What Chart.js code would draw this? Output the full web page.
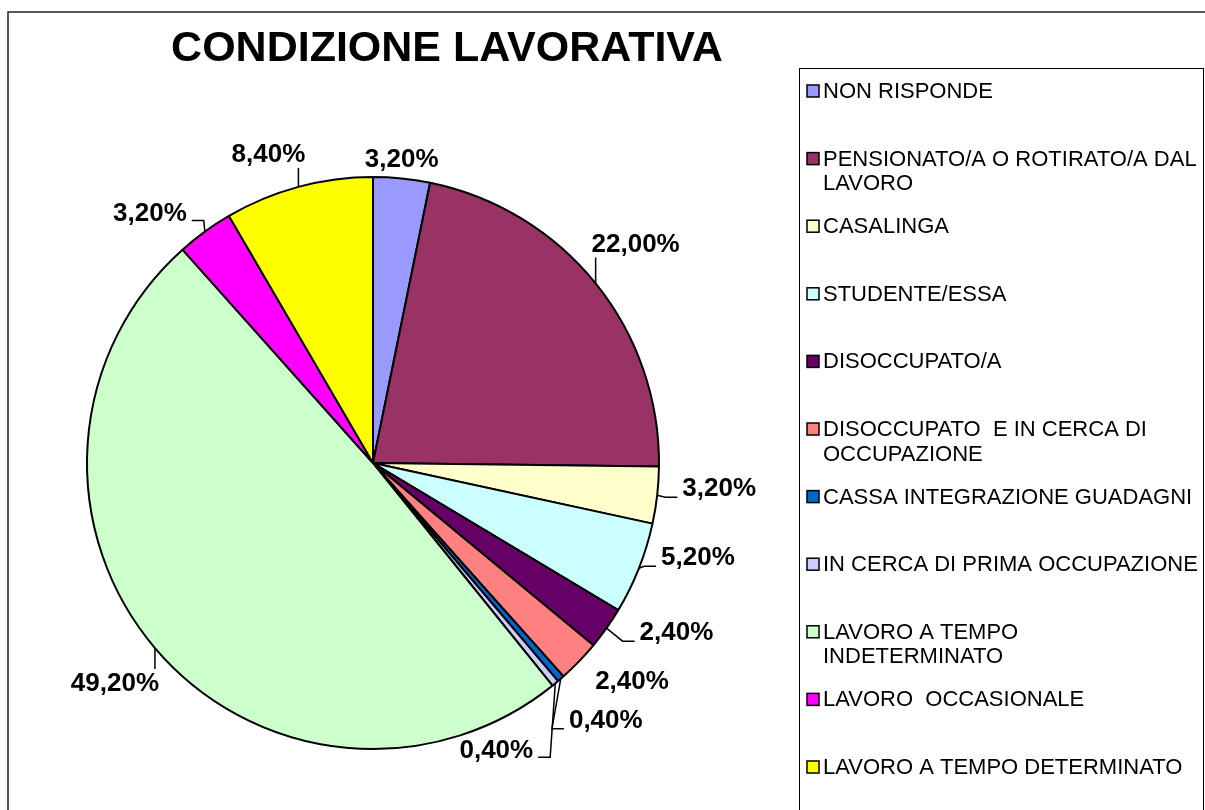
<html>

<head>
    <script src="https://cdn.jsdelivr.net/npm/chart.js"></script>
    <style>
        body { margin: 0; background: #fff; }
        canvas { display: block; }
    </style>
</head>

<body>
    <canvas id="myChart" width="1205" height="810"></canvas>
</body>
<script>

    var title = "CONDIZIONE LAVORATIVA";
    var labels = [
        "NON RISPONDE",
        ["PENSIONATO/A O ROTIRATO/A DAL", "LAVORO"],
        "CASALINGA",
        "STUDENTE/ESSA",
        "DISOCCUPATO/A",
        ["DISOCCUPATO  E IN CERCA DI", "OCCUPAZIONE"],
        "CASSA INTEGRAZIONE GUADAGNI",
        "IN CERCA DI PRIMA OCCUPAZIONE",
        ["LAVORO A TEMPO", "INDETERMINATO"],
        "LAVORO  OCCASIONALE",
        "LAVORO A TEMPO DETERMINATO"
    ];
    var values = [3.2, 22.0, 3.2, 5.2, 2.4, 2.4, 0.4, 0.4, 49.2, 3.2, 8.4];
    var colors = ["#9999FF", "#993366", "#FFFFCC", "#CCFFFF", "#660066", "#FF8080",
        "#0066CC", "#CCCCFF", "#CCFFCC", "#FF00FF", "#FFFF00"];

    // where each percentage label sits, relative to the middle of its arc edge
    // [dx, dy, leader type]  h = elbow to the side, v = straight up/down, null = none
    var labelPlace = [
        [0, -19, null],
        [40, -39, "v"],
        [62, -6, "h"],
        [59, -10, "h"],
        [70, 5, "h"],
        [53, 20, null],
        [45, 42, "h"],
        [-59, 67, "h"],
        [-40, 36, "v"],
        [-55, -18, "h"],
        [-30, -32, "v"]
    ];

    var fmt = function (v) {
        return v.toFixed(2).replace(".", ",") + "%";
    };

    var frame = {
        id: "frame",
        beforeDraw: function (chart) {
            var ctx = chart.ctx;
            ctx.save();
            ctx.fillStyle = "#fff";
            ctx.fillRect(0, 0, chart.width, chart.height);
            ctx.strokeStyle = "#222";
            ctx.lineWidth = 1.5;
            ctx.beginPath();
            ctx.moveTo(8, chart.height);
            ctx.lineTo(8, 12);
            ctx.lineTo(chart.width, 12);
            ctx.stroke();
            // legend box
            ctx.lineWidth = 1;
            ctx.strokeStyle = "#000";
            ctx.strokeRect(799.5, 68.5, 404, 760);
            // title
            ctx.fillStyle = "#000";
            ctx.font = 'bold 43px "Liberation Sans", Arial, sans-serif';
            ctx.textAlign = "center";
            ctx.textBaseline = "middle";
            ctx.fillText(title, 447, 49);
            ctx.restore();
        }
    };

    var sideLegend = {
        id: "sideLegend",
        afterDraw: function (chart) {
            var ctx = chart.ctx;
            ctx.save();
            ctx.font = '22px "Liberation Sans", Arial, sans-serif';
            ctx.textBaseline = "middle";
            ctx.textAlign = "left";
            chart.data.labels.forEach(function (lab, i) {
                var y = 91 + i * 67.6;
                ctx.fillStyle = chart.data.datasets[0].backgroundColor[i];
                ctx.fillRect(807, y - 6, 12, 12);
                ctx.strokeStyle = "#000";
                ctx.lineWidth = 1.5;
                ctx.strokeRect(807, y - 6, 12, 12);
                ctx.fillStyle = "#000";
                var lines = Array.isArray(lab) ? lab : [lab];
                lines.forEach(function (t, j) {
                    ctx.fillText(t, 823, y + 1 + j * 24.5);
                });
            });
            ctx.restore();
        }
    };

    var pieLabels = {
        id: "pieLabels",
        afterDatasetsDraw: function (chart) {
            var ctx = chart.ctx;
            var meta = chart.getDatasetMeta(0);
            var vals = chart.data.datasets[0].data;
            ctx.save();
            ctx.font = 'bold 26px "Liberation Sans", Arial, sans-serif';
            ctx.textAlign = "center";
            ctx.textBaseline = "middle";
            ctx.strokeStyle = "#000";
            ctx.lineWidth = 1.5;
            meta.data.forEach(function (arc, i) {
                var p = arc.getProps(["x", "y", "startAngle", "endAngle", "outerRadius"], true);
                var mid = (p.startAngle + p.endAngle) / 2;
                var ax = p.x + Math.cos(mid) * p.outerRadius;
                var ay = p.y + Math.sin(mid) * p.outerRadius;
                var pl = labelPlace[i];
                var lx = ax + pl[0], ly = ay + pl[1];
                var txt = fmt(vals[i]);
                var w = ctx.measureText(txt).width;
                var left = lx - w / 2, right = lx + w / 2;
                var top = ly - 9, bottom = ly + 9;
                if (pl[2] == "h") {
                    ctx.beginPath();
                    ctx.moveTo(ax, ay);
                    if (pl[0] > 0) {
                        ctx.lineTo(left - 17, ly + 8);
                        ctx.lineTo(left - 5, ly + 8);
                    } else {
                        ctx.lineTo(right + 17, ly + 7);
                        ctx.lineTo(right + 5, ly + 7);
                    }
                    ctx.stroke();
                } else if (pl[2] == "v") {
                    ctx.beginPath();
                    ctx.moveTo(ax, ay);
                    ctx.lineTo(ax, pl[1] > 0 ? top - 6 : bottom + 4);
                    ctx.stroke();
                }
                ctx.fillStyle = "#000";
                ctx.fillText(txt, lx, ly);
            });
            ctx.restore();
        }
    };

    var ctx = document.getElementById("myChart").getContext("2d");
    var chart = new Chart(ctx, {
        type: "pie",
        data: {
            labels: labels,
            datasets: [{
                data: values,
                backgroundColor: colors,
                borderColor: "#000",
                borderWidth: 2
            }]
        },
        options: {
            responsive: false,
            animation: false,
            layout: { padding: { left: 86, right: 545, top: 176, bottom: 60 } },
            plugins: {
                legend: { display: false },
                title: { display: false },
                tooltip: { enabled: false }
            }
        },
        plugins: [frame, pieLabels, sideLegend]
    });

</script>

</html>
